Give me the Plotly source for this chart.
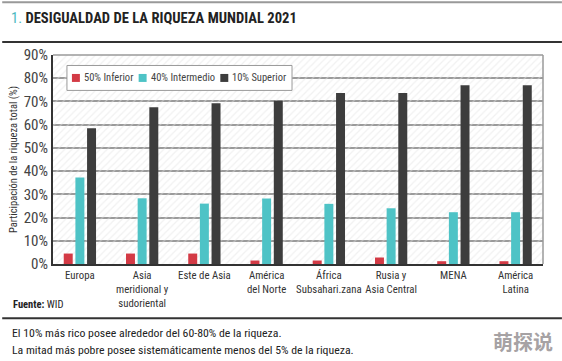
import plotly.graph_objects as go

categories = ["Europa", "Asia<br>meridional y<br>sudoriental", "Este de Asia", "América<br>del Norte",
              "África<br>Subsahari.zana", "Rusia y<br>Asia Central", "MENA", "América<br>Latina"]
bottom50 = [4.5, 4.5, 4.5, 1.5, 1.5, 2.8, 1.2, 1.2]
middle40 = [37.2, 28.3, 26.0, 28.2, 25.9, 24.0, 22.3, 22.3]
top10 = [58.5, 67.5, 69.2, 70.3, 73.6, 73.6, 77.0, 77.0]
series_names = ["50% Inferior", "40% Intermedio", "10% Superior"]
colors = ["#d33a45", "#4ec3c6", "#3d3d3d"]
ytick_vals = [0, 10, 20, 30, 40, 50, 60, 70, 80, 90]
ytick_text = [f"{v}%" for v in ytick_vals]

W, H = 562, 361
L, R, T, B = 51, 19, 54.5, 97
PW, PH = W - L - R, H - T - B

def px2x(px):
    return (px - L) / PW

def py2y(py):
    return (H - B - py) / PH

FONT = "Roboto Condensed, Liberation Sans Narrow, sans-serif"

fig = go.Figure()

# hatched background on base axes
fig.add_trace(go.Scatter(
    x=[0, 1, 1, 0, 0], y=[0, 0, 1, 1, 0], xaxis="x", yaxis="y",
    mode="lines", line=dict(width=0), fill="toself",
    fillcolor="rgba(0,0,0,0)",
    fillpattern=dict(shape="/", fgcolor="#e4e4e4", bgcolor="rgba(0,0,0,0)", size=5, solidity=0.25),
    hoverinfo="skip", showlegend=False))

for name, vals, c in zip(series_names, [bottom50, middle40, top10], colors):
    fig.add_trace(go.Bar(x=categories, y=vals, name=name, marker=dict(color=c, line=dict(width=0)),
                         xaxis="x2", yaxis="y2", showlegend=False))

fig.update_layout(
    width=W, height=H,
    margin=dict(l=L, r=R, t=T, b=B),
    paper_bgcolor="white", plot_bgcolor="white",
    barmode="group", bargap=0.438, bargroupgap=0.23,
    font=dict(family=FONT, color="#333"),
    xaxis=dict(range=[0, 1], visible=False, fixedrange=True),
    yaxis=dict(range=[0, 1], visible=False, fixedrange=True),
    xaxis2=dict(overlaying="x", type="category", range=[-0.432, 7.44], showgrid=False,
                showline=True, linecolor="#333", linewidth=2, ticks="", tickangle=0,
                tickfont=dict(size=10.8, color="#333", family=FONT), side="bottom"),
    yaxis2=dict(overlaying="y", range=[0, 90], tickvals=ytick_vals, ticktext=ytick_text,
                showgrid=True, gridcolor="#9a9a9a", gridwidth=1.5, zeroline=False,
                showline=True, linecolor="#333", linewidth=2, ticks="",
                tickfont=dict(size=15, color="#444", family=FONT), side="left",
                title=dict(text="Participación de la riqueza total (%)",
                           font=dict(size=10.5, color="#333", family=FONT), standoff=4)),
    showlegend=False,
)

shapes = [
    # plot border top/right
    dict(type="line", xref="paper", yref="paper", x0=0, x1=1, y0=1, y1=1, line=dict(color="#9a9a9a", width=1.5)),
    dict(type="line", xref="paper", yref="paper", x0=1, x1=1, y0=0, y1=1, line=dict(color="#9a9a9a", width=1.5)),
    # top thin grey rule
    dict(type="line", xref="paper", yref="paper", x0=px2x(0), x1=px2x(W), y0=py2y(1.5), y1=py2y(1.5),
         line=dict(color="#999", width=2)),
    # rule under title
    dict(type="line", xref="paper", yref="paper", x0=px2x(0), x1=px2x(W), y0=py2y(41.5), y1=py2y(41.5),
         line=dict(color="#333", width=2)),
    # rule above notes
    dict(type="line", xref="paper", yref="paper", x0=px2x(0), x1=px2x(W), y0=py2y(318.5), y1=py2y(318.5),
         line=dict(color="#333", width=2)),
    # legend box
    dict(type="rect", xref="paper", yref="paper", x0=px2x(65), x1=px2x(291), y0=py2y(90), y1=py2y(65),
         fillcolor="white", line=dict(color="#9a9a9a", width=1)),
]

annotations = [
    dict(text="<span style='color:#4ab8c0'>1.</span> <b>DESIGUALDAD DE LA RIQUEZA MUNDIAL 2021</b>",
         x=px2x(7), y=py2y(17), xanchor="left", yanchor="middle",
         font=dict(size=14.6, color="#222", family=FONT)),
    dict(text="<b>Fuente:</b> WID", x=px2x(9), y=py2y(305), xanchor="left", yanchor="middle",
         font=dict(size=10.5, color="#222", family=FONT)),
    dict(text="El 10% más rico posee alrededor del 60-80% de la riqueza.", x=px2x(8), y=py2y(333),
         xanchor="left", yanchor="middle", font=dict(size=11.8, color="#222", family=FONT)),
    dict(text="La mitad más pobre posee sistemáticamente menos del 5% de la riqueza.", x=px2x(8), y=py2y(350),
         xanchor="left", yanchor="middle", font=dict(size=11.8, color="#222", family=FONT)),
    dict(text="<b>萌探说</b>", x=px2x(555), y=py2y(342), xanchor="right", yanchor="middle",
         font=dict(size=20, color="#a6a2a4", family="Noto Sans CJK SC")),
]

# manual legend built from series names / colours
legend_sq_x = [70, 137, 219]
for name, c, sx in zip(series_names, colors, legend_sq_x):
    shapes.append(dict(type="rect", xref="paper", yref="paper", x0=px2x(sx), x1=px2x(sx + 8),
                       y0=py2y(81.5), y1=py2y(73.5), fillcolor=c, line=dict(width=0)))
    annotations.append(dict(text=name, x=px2x(sx + 10), y=py2y(77.5), xanchor="left", yanchor="middle",
                            font=dict(size=10.5, color="#444", family=FONT)))

for a in annotations:
    a.update(xref="paper", yref="paper", showarrow=False)
fig.update_layout(shapes=shapes, annotations=annotations)

fig.write_html("out.html", post_script="document.body.style.margin='0px';",
               config={"displayModeBar": False})
